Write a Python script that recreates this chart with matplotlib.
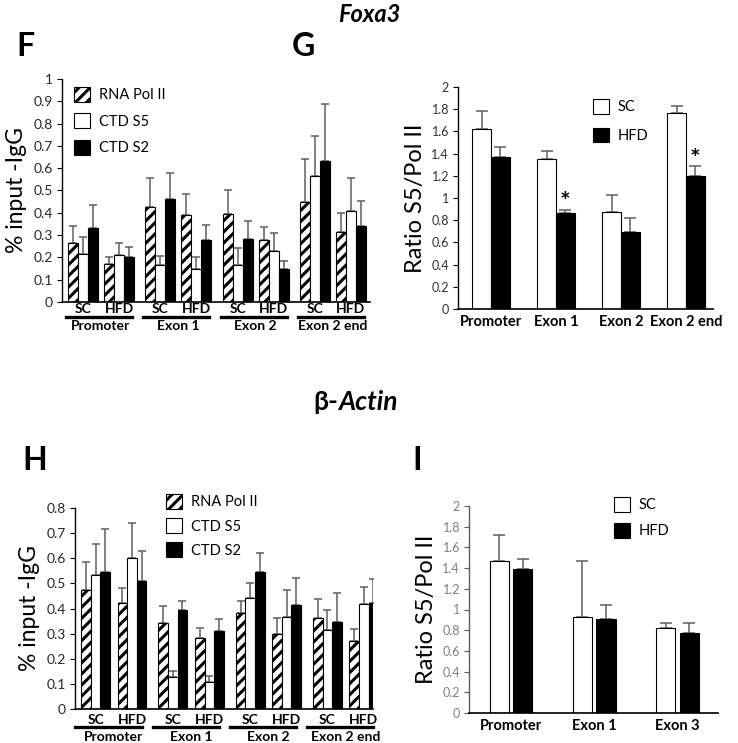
import matplotlib
matplotlib.use("Agg")
import matplotlib.pyplot as plt
from matplotlib.patches import Patch
from matplotlib.transforms import blended_transform_factory
from matplotlib.lines import Line2D
import numpy as np

plt.rcParams['font.family'] = ['Lato', 'DejaVu Sans']
plt.rcParams['hatch.linewidth'] = 2.2

# ---------------- data ----------------
regions_fh = ["Promoter", "Exon 1", "Exon 2", "Exon 2 end"]
groups = ["SC", "HFD"]
series_fh = ["RNA Pol II", "CTD S5", "CTD S2"]

# Foxa3 ChIP (F): order = Promoter SC, Promoter HFD, Exon1 SC, Exon1 HFD, ...
f_rna = [0.265, 0.17, 0.427, 0.391, 0.395, 0.28, 0.45, 0.314]
f_rna_err = [0.078, 0.033, 0.128, 0.093, 0.108, 0.058, 0.19, 0.085]
f_s5 = [0.215, 0.21, 0.168, 0.15, 0.168, 0.23, 0.566, 0.41]
f_s5_err = [0.075, 0.055, 0.04, 0.05, 0.072, 0.078, 0.18, 0.145]
f_s2 = [0.334, 0.2, 0.464, 0.28, 0.284, 0.147, 0.633, 0.341]
f_s2_err = [0.102, 0.047, 0.115, 0.066, 0.08, 0.037, 0.253, 0.113]

# Foxa3 ratio (G)
g_regions = ["Promoter", "Exon 1", "Exon 2", "Exon 2 end"]
g_sc = [1.626, 1.35, 0.871, 1.769]
g_sc_err = [0.158, 0.069, 0.156, 0.063]
g_hfd = [1.371, 0.865, 0.692, 1.2]
g_hfd_err = [0.09, 0.03, 0.125, 0.087]
g_sig = [False, True, False, True]

# beta-Actin ChIP (H)
h_rna = [0.472, 0.423, 0.341, 0.283, 0.384, 0.298, 0.362, 0.271]
h_rna_err = [0.115, 0.057, 0.068, 0.04, 0.046, 0.064, 0.075, 0.049]
h_s5 = [0.533, 0.602, 0.127, 0.108, 0.442, 0.368, 0.313, 0.419]
h_s5_err = [0.123, 0.137, 0.025, 0.022, 0.059, 0.104, 0.08, 0.068]
h_s2 = [0.545, 0.508, 0.393, 0.31, 0.545, 0.413, 0.347, 0.423]
h_s2_err = [0.171, 0.12, 0.038, 0.05, 0.077, 0.108, 0.115, 0.093]

# beta-Actin ratio (I)
i_regions = ["Promoter", "Exon 1", "Exon 3"]
i_sc = [1.471, 0.932, 0.826]
i_sc_err = [0.252, 0.533, 0.042]
i_hfd = [1.39, 0.913, 0.777]
i_hfd_err = [0.097, 0.126, 0.088]

# ---------------- figure ----------------
W, H = 738, 743
fig = plt.figure(figsize=(W / 100, H / 100), dpi=100)


def ax_px(left, right, bottom, top):
    return fig.add_axes([left / W, 1 - bottom / H, (right - left) / W, (bottom - top) / H])


ERR_C = '#5f5f5f'


def style_axes(ax, tick_color='#262626', spine_color='black', fs=9):
    for s in ['top', 'right']:
        ax.spines[s].set_visible(False)
    ax.spines['left'].set_color(spine_color)
    ax.spines['bottom'].set_color('black')
    ax.spines['left'].set_linewidth(1.0)
    ax.spines['bottom'].set_linewidth(1.2)
    ax.tick_params(axis='y', direction='out', length=3.5, width=0.8, colors=spine_color,
                   labelcolor=tick_color, labelsize=fs, pad=3)
    ax.tick_params(axis='x', length=0, labelbottom=False)


def chip_panel(ax, vals, errs, step_r, step_g, xlim, ylim, yticks,
               line_l, line_r, y_grp, y_line, y_reg):
    hatches = ['///', '', '']
    faces = ['white', 'white', 'black']
    n = len(vals[0])
    idx = np.arange(n)
    centers = (idx // 2) * step_r + (idx % 2) * step_g
    for s in range(3):
        x = centers + (s - 1) * 1.0
        ax.bar(x, vals[s], width=1.0, color=faces[s], edgecolor='black',
               linewidth=0.8, hatch=hatches[s], zorder=2)
        ax.errorbar(x, vals[s], yerr=[np.zeros(n), errs[s]], fmt='none',
                    ecolor=ERR_C, elinewidth=1.1, capsize=3, capthick=1.1, zorder=1)
    ax.set_xlim(*xlim)
    ax.set_ylim(*ylim)
    ax.set_yticks(yticks)
    ax.set_yticklabels(['%g' % t for t in yticks])
    tr = blended_transform_factory(ax.transData, ax.transAxes)
    for i in range(n):
        ax.text(centers[i], y_grp, groups[i % 2], transform=tr, ha='center', va='baseline',
                fontsize=10, fontweight='bold', clip_on=False)
    for r, name in enumerate(regions_fh):
        c0 = centers[2 * r]
        c1 = centers[2 * r + 1]
        ax.add_line(Line2D([c0 + line_l, c1 + line_r], [y_line, y_line], transform=tr,
                           color='black', lw=2.4, clip_on=False))
        ax.text((c0 + c1) / 2, y_reg, name, transform=tr, ha='center', va='baseline',
                fontsize=10, fontweight='bold', clip_on=False)


def legend_px(ax, handles, labels, x, y, spacing, fs=10.5, hl=1.1, hh=1.2):
    ax.legend(handles, labels, loc='upper left', bbox_to_anchor=(x / W, 1 - y / H),
              bbox_transform=fig.transFigure, frameon=False, fontsize=fs,
              handlelength=hl, handleheight=hh, handletextpad=0.6,
              labelspacing=spacing, borderpad=0, borderaxespad=0)


# ---- F ----
axF = ax_px(62, 370, 302, 79)
style_axes(axF, fs=10)
chip_panel(axF, [f_rna, f_s5, f_s2], [f_rna_err, f_s5_err, f_s2_err],
           7.73, 3.6, (-2.1, 28.7), (0, 1), np.round(np.arange(0, 1.01, 0.1), 1),
           -1.7, 1.3, -0.05, -0.068, -0.127)
axF.set_ylabel('% input -IgG', fontsize=16.5, labelpad=5)
legend_px(axF, [Patch(facecolor='white', edgecolor='black', hatch='///', lw=0.8),
                Patch(facecolor='white', edgecolor='black', lw=0.8),
                Patch(facecolor='black', edgecolor='black', lw=0.8)],
          series_fh, 74, 87, 0.75)

# ---- H ----
axH = ax_px(75, 373, 709, 508)
style_axes(axH, fs=10)
chip_panel(axH, [h_rna, h_s5, h_s2], [h_rna_err, h_s5_err, h_s2_err],
           8.05, 3.8, (-2.14, 28.9), (0, 0.8), np.round(np.arange(0, 0.81, 0.1), 1),
           -2.1, 1.0, -0.075, -0.092, -0.159)
axH.set_ylabel('% input -IgG', fontsize=16.5, labelpad=5)
legend_px(axH, [Patch(facecolor='white', edgecolor='black', hatch='///', lw=0.8),
                Patch(facecolor='white', edgecolor='black', lw=0.8),
                Patch(facecolor='black', edgecolor='black', lw=0.8)],
          series_fh, 166, 494, 0.6)


# ---- ratio panels ----
def ratio_panel(ax, names, sc, sc_err, hfd, hfd_err, w, gap, xlim, sig=None):
    x = np.arange(len(names))
    off = (w + gap) / 2
    ax.bar(x - off, sc, width=w, color='white', edgecolor='black', linewidth=0.8, zorder=2)
    ax.bar(x + off, hfd, width=w, color='black', edgecolor='black', linewidth=0.8, zorder=2)
    ax.errorbar(x - off, sc, yerr=[np.zeros(len(x)), sc_err], fmt='none', ecolor=ERR_C,
                elinewidth=1.1, capsize=4, capthick=1.1, zorder=1)
    ax.errorbar(x + off, hfd, yerr=[np.zeros(len(x)), hfd_err], fmt='none', ecolor=ERR_C,
                elinewidth=1.1, capsize=4, capthick=1.1, zorder=1)
    ax.set_xlim(*xlim)
    ax.set_ylim(0, 2)
    yt = np.round(np.arange(0, 2.01, 0.2), 1)
    ax.set_yticks(yt)
    ax.set_yticklabels(['%g' % t for t in yt])
    ax.set_xticks(x)
    ax.set_xticklabels(names, fontsize=10.5, fontweight='bold')
    ax.tick_params(axis='x', labelbottom=True, length=0, pad=4, labelcolor='black')
    if sig is not None:
        for i, s in enumerate(sig):
            if s:
                ax.text(x[i] + off, hfd[i] + hfd_err[i] - 0.04, '*', ha='center', va='bottom',
                        fontsize=18, fontweight='bold')
    ax.set_ylabel('Ratio S5/Pol II', fontsize=17, labelpad=4)


axG = ax_px(458, 713, 309, 87)
style_axes(axG, tick_color='#333333', fs=9)
ratio_panel(axG, g_regions, g_sc, g_sc_err, g_hfd, g_hfd_err, 0.288, 0.0, (-0.508, 3.415),
            sig=g_sig)
legend_px(axG, [Patch(facecolor='white', edgecolor='black', lw=0.8),
                Patch(facecolor='black', edgecolor='black', lw=0.8)],
          groups, 593, 99, 0.9)

axI = ax_px(469, 718, 713, 506)
style_axes(axI, tick_color='#7f7f7f', spine_color='#595959', fs=9)
ratio_panel(axI, i_regions, i_sc, i_sc_err, i_hfd, i_hfd_err, 0.229, 0.054, (-0.506, 2.488))
legend_px(axI, [Patch(facecolor='white', edgecolor='black', lw=0.8),
                Patch(facecolor='black', edgecolor='black', lw=0.8)],
          groups, 614, 497, 0.7)

# ---- titles & panel letters ----
fig.text(369 / W, 1 - 15 / H, 'Foxa3', ha='center', va='center', fontsize=17,
         fontweight='bold', fontstyle='italic')
t1 = fig.text(313 / W, 1 - 402 / H, 'β-', ha='left', va='center', fontsize=19, fontweight='bold')
fig.canvas.draw()
bb = t1.get_window_extent()
fig.text(bb.x1 / W, 1 - 402 / H, 'Actin', ha='left', va='center', fontsize=19,
         fontweight='bold', fontstyle='italic')

for letter, x, y in [('F', 16, 46), ('G', 292, 46), ('H', 22, 461), ('I', 412, 461)]:
    fig.text(x / W, 1 - y / H, letter, ha='left', va='center', fontsize=23, fontweight='bold')

fig.savefig('out.png', dpi=100)
